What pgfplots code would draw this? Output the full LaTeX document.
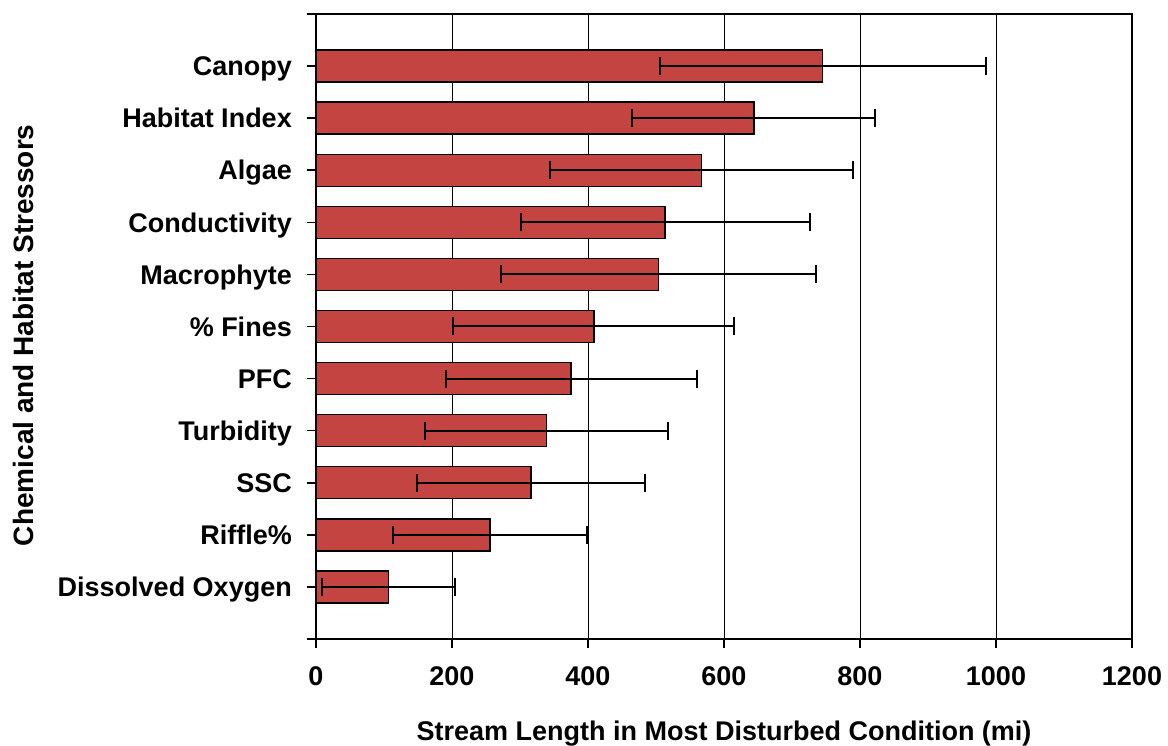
\documentclass[border=0pt]{standalone}
\usepackage{pgfplots}
\pgfplotsset{compat=1.18}
\usepackage{fontspec}
\setmainfont{Liberation Sans}
\definecolor{barred}{RGB}{196,68,66}
\begin{document}
\fontsize{27}{32}\selectfont\bfseries
\begin{tikzpicture}
\useasboundingbox (-316pt,-106pt) rectangle (852pt,639pt);
\begin{axis}[
  at={(0pt,0pt)}, anchor=south west,
  scale only axis, width=816pt, height=625pt,
  xmin=0, xmax=1200, ymin=-1, ymax=11,
  xtick={0,200,...,1200},
  ytick={-1,0,...,11},
  yticklabels={,Dissolved Oxygen,Riffle\%,SSC,Turbidity,PFC,\% Fines,Macrophyte,Conductivity,Algae,Habitat Index,Canopy,},
  xtick pos=bottom, ytick pos=left,
  tick align=outside, major tick length=9pt,
  tick style={black, line width=1.5pt},
  axis line style={black, line width=1.2pt},
  xmajorgrids, grid style={black, line width=0.9pt},
  /pgf/number format/assume math mode=true,
  /pgf/number format/1000 sep={},
  ticklabel style={font=\fontsize{27}{32}\selectfont\bfseries},
  xticklabel style={yshift=-9pt},
  yticklabel style={anchor=base east, xshift=-6pt, yshift=-9.7pt},
  xlabel={Stream Length in Most Disturbed Condition (mi)},
  ylabel={Chemical and Habitat Stressors},
  xlabel style={font=\fontsize{27}{32}\selectfont\bfseries, at={(axis description cs:0.5,0)}, anchor=base, yshift=-101pt},
  ylabel style={font=\fontsize{28}{33}\selectfont\bfseries, at={(axis description cs:-0.3456,0.486)}, anchor=base},
  xbar, bar width=32pt,
]
\addplot[xbar, fill=barred, draw=black, line width=1.4pt,
  error bars/.cd, x dir=both, x explicit,
  error bar style={black, line width=2pt},
  error mark options={rotate=90, black, mark size=9pt, line width=2pt}]
coordinates {
  (107,0) += (98,0) -= (98,0)
  (256,1) += (143,0) -= (143,0)
  (316,2) += (168,0) -= (168,0)
  (339,3) += (178,0) -= (179,0)
  (375,4) += (185,0) -= (184,0)
  (409,5) += (206,0) -= (207,0)
  (504,6) += (231,0) -= (232,0)
  (513,7) += (213,0) -= (212,0)
  (567,8) += (223,0) -= (223,0)
  (644,9) += (178,0) -= (180,0)
  (745,10) += (240,0) -= (239,0)
};
\draw[black, line width=2.5pt] (rel axis cs:0,0) -- (rel axis cs:0,1);
\end{axis}
\end{tikzpicture}
\end{document}
